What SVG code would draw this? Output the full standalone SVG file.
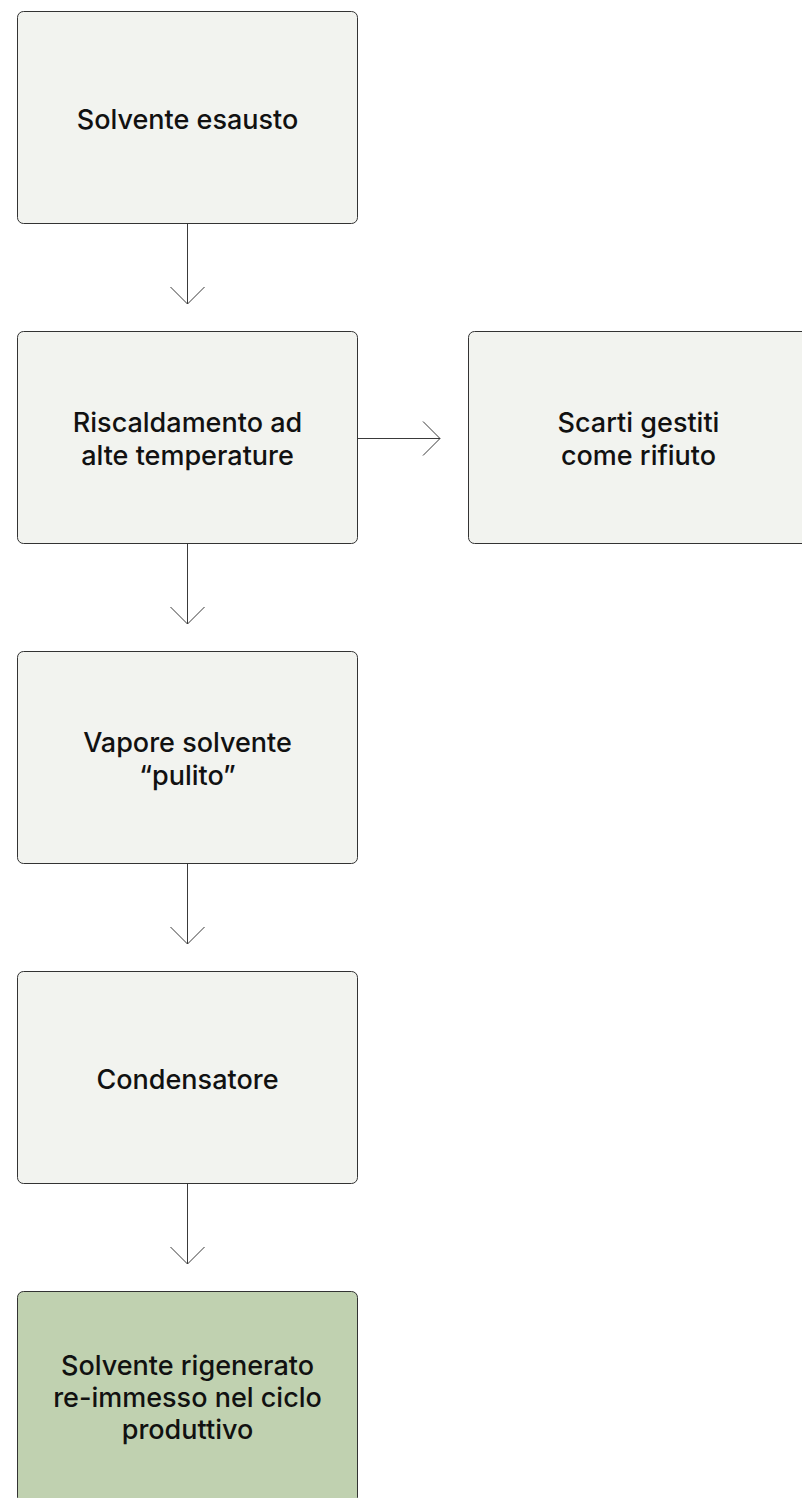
<svg xmlns="http://www.w3.org/2000/svg" width="802" height="1498" viewBox="0 0 802 1498">
  <defs>
    <style>
      .box { fill: #F2F3EF; stroke: #333333; stroke-width: 1; }
      .box.final { fill: #C0D1B0; }
      .lbl { font-family: Inter, "Liberation Sans", sans-serif; font-size: 27px; font-weight: 500; fill: #111111; text-anchor: middle; }
      .conn { stroke: #3A3A3A; stroke-width: 1; fill: none; }
    </style>
    <marker id="chev" markerUnits="userSpaceOnUse" markerWidth="40" markerHeight="40" viewBox="-20 -20 40 40" refX="0" refY="0" orient="auto">
      <path d="M-17,-17 L0,0 L-17,17" fill="none" stroke="#3A3A3A" stroke-width="1"/>
    </marker>
  </defs>
  <rect width="802" height="1498" fill="#FFFFFF"/>

  <g id="connectors">
    <line class="conn" x1="187.5" y1="224" x2="187.5" y2="304" marker-end="url(#chev)"/>
    <line class="conn" x1="187.5" y1="544" x2="187.5" y2="624" marker-end="url(#chev)"/>
    <line class="conn" x1="187.5" y1="864" x2="187.5" y2="944" marker-end="url(#chev)"/>
    <line class="conn" x1="187.5" y1="1184" x2="187.5" y2="1264" marker-end="url(#chev)"/>
    <line class="conn" x1="357.5" y1="438.5" x2="440" y2="438.5" marker-end="url(#chev)"/>
  </g>

  <g id="node-solvente-esausto">
    <rect class="box" x="17.5" y="11.5" width="340" height="212" rx="6"/>
    <text class="lbl" x="187.5" y="129">Solvente esausto</text>
  </g>

  <g id="node-riscaldamento">
    <rect class="box" x="17.5" y="331.5" width="340" height="212" rx="6"/>
    <text class="lbl" x="187.5" y="432">Riscaldamento ad</text>
    <text class="lbl" x="187.5" y="464.5">alte temperature</text>
  </g>

  <g id="node-scarti">
    <rect class="box" x="468.5" y="331.5" width="340" height="212" rx="6"/>
    <text class="lbl" x="638.5" y="432">Scarti gestiti</text>
    <text class="lbl" x="638.5" y="464.5">come rifiuto</text>
  </g>

  <g id="node-vapore">
    <rect class="box" x="17.5" y="651.5" width="340" height="212" rx="6"/>
    <text class="lbl" x="187.5" y="752">Vapore solvente</text>
    <text class="lbl" x="187.5" y="784.5">“pulito”</text>
  </g>

  <g id="node-condensatore">
    <rect class="box" x="17.5" y="971.5" width="340" height="212" rx="6"/>
    <text class="lbl" x="187.5" y="1089">Condensatore</text>
  </g>

  <g id="node-solvente-rigenerato">
    <rect class="box final" x="17.5" y="1291.5" width="340" height="212" rx="6"/>
    <text class="lbl" x="187.5" y="1375">Solvente rigenerato</text>
    <text class="lbl" x="187.5" y="1407">re-immesso nel ciclo</text>
    <text class="lbl" x="187.5" y="1439">produttivo</text>
  </g>
</svg>
